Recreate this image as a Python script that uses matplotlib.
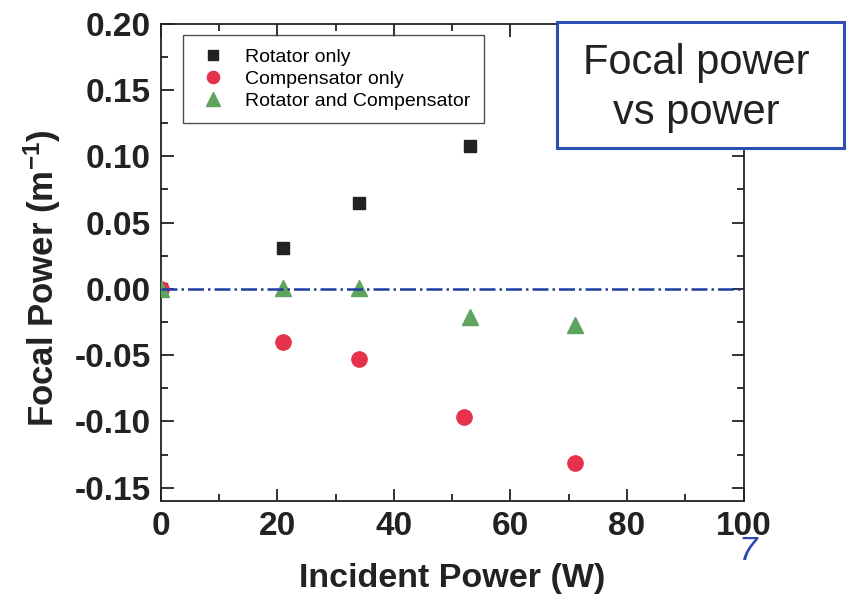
import matplotlib
matplotlib.use("Agg")
import matplotlib.pyplot as plt
from matplotlib.ticker import MultipleLocator
from matplotlib.patches import Rectangle

plt.rcParams['font.family'] = ['Liberation Sans', 'DejaVu Sans']
plt.rcParams['mathtext.default'] = 'regular'

# data
rot_x = [0, 21, 34, 53]
rot_y = [0.0, 0.031, 0.065, 0.108]
comp_x = [0, 21, 34, 52, 71]
comp_y = [0.0, -0.040, -0.053, -0.097, -0.131]
both_x = [0, 21, 34, 53, 71]
both_y = [0.0, 0.001, 0.001, -0.021, -0.027]
yticks = [-0.15, -0.10, -0.05, 0.00, 0.05, 0.10, 0.15, 0.20]

fig = plt.figure(figsize=(8.46, 5.95), dpi=100)
ax = fig.add_axes([0.190, 0.158, 0.689, 0.802])

ax.plot(rot_x, rot_y, 's', color='#222222', ms=9, label='Rotator only', zorder=3)
ax.plot(comp_x, comp_y, 'o', color='#e5334d', ms=11, label='Compensator only', zorder=3)
ax.plot(both_x, both_y, '^', color='#5ea35e', ms=12, label='Rotator and Compensator', zorder=4)
ax.plot([0, 100], [0, 0], color='#1f3fa0', ls='-.', lw=1.8, zorder=5)

ax.set_xlim(0, 100)
ax.set_ylim(-0.16, 0.20)
ax.xaxis.set_major_locator(MultipleLocator(20))
ax.xaxis.set_minor_locator(MultipleLocator(10))
ax.yaxis.set_minor_locator(MultipleLocator(0.025))
ax.set_yticks(yticks)
ax.set_yticklabels(['%.2f' % v for v in yticks])
ax.tick_params(which='both', direction='in', top=True, right=True, width=1.3, colors='#222222')
ax.tick_params(which='major', length=9, labelsize=24, pad=7)
ax.tick_params(which='minor', length=5)
for lab in ax.get_xticklabels() + ax.get_yticklabels():
    lab.set_fontweight('bold')
for s in ax.spines.values():
    s.set_linewidth(1.3)
    s.set_color('#222222')

ax.set_xlabel('Incident Power (W)', fontsize=24.5, fontweight='bold', color='#222222', va='center')
ax.xaxis.set_label_coords(0.5, -0.163)
ax.set_ylabel('Focal Power (m$^{-1}$)', fontsize=25, fontweight='bold', color='#222222', va='center')
ax.yaxis.set_label_coords(-0.204, 0.467)

leg = ax.legend(loc='upper left', bbox_to_anchor=(0.039, 0.977), fontsize=14, frameon=True,
                fancybox=False, edgecolor='#222222', handletextpad=0.85, borderpad=0.7,
                labelspacing=0.22, handlelength=1.6, markerscale=0.8, borderaxespad=0)
leg.get_frame().set_linewidth(1.0)

# framed note at top right
fig.patches.append(Rectangle((0.658, 0.751), 0.340, 0.212, transform=fig.transFigure,
                             fc='white', ec='#2b4fb5', lw=2.2, zorder=10))
fig.text(0.823, 0.852, 'Focal power\nvs power', fontsize=30, ha='center', va='center',
         color='#222222', linespacing=1.3, zorder=11)

fig.text(0.884, 0.058, '7', fontsize=24, color='#2a48b0', style='italic', ha='center')

fig.savefig('out.png', dpi=100)
